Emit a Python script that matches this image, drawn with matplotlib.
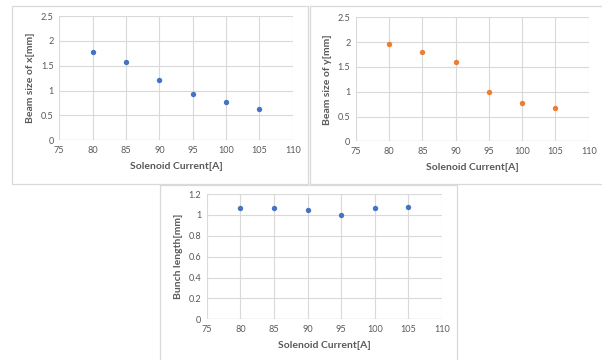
import matplotlib
matplotlib.use("Agg")
import matplotlib.pyplot as plt
from matplotlib.patches import Rectangle

plt.rcParams['font.family'] = ['Lato', 'DejaVu Sans']

current = [80, 85, 90, 95, 100, 105]
beam_x = [1.77, 1.57, 1.21, 0.94, 0.78, 0.62]
beam_y = [1.97, 1.81, 1.60, 0.99, 0.78, 0.68]
bunch = [1.063, 1.063, 1.044, 1.002, 1.066, 1.076]

x_ticks = [75, 80, 85, 90, 95, 100, 105, 110]
xlabel = "Solenoid Current[A]"

W, H = 602, 360
fig = plt.figure(figsize=(W / 100, H / 100), dpi=100)

def fr(l, r, t, b):
    return [l / W, 1 - b / H, (r - l) / W, (b - t) / H]

# chart borders
for (l, r, t, b) in [(12, 308, 6, 184), (310, 640, 6, 184), (159.5, 457, 185, 400)]:
    fig.patches.append(Rectangle((l / W, 1 - b / H), (r - l) / W, (b - t) / H,
                                 transform=fig.transFigure, fill=False,
                                 edgecolor='#D9D9D9', linewidth=0.9, zorder=0))

blue = '#4472C4'
orange = '#ED7D31'
tcol = '#595959'

def style(ax, ymax, ystep, ylab):
    ax.set_xlim(75, 110)
    ax.set_xticks(x_ticks)
    ax.set_ylim(0, ymax)
    n = int(round(ymax / ystep))
    yt = [round(i * ystep, 2) for i in range(n + 1)]
    ax.set_yticks(yt)
    ax.set_yticklabels([('%g' % v) for v in yt])
    for s in ax.spines.values():
        s.set_visible(False)
    ax.grid(True, color='#D9D9D9', linewidth=0.8)
    ax.set_axisbelow(True)
    ax.tick_params(length=0, labelsize=6.6, colors=tcol, pad=4)
    ax.axhline(0, color='#D0D0D0', linewidth=0.9, zorder=1)
    ax.set_xlabel(xlabel, fontsize=7.5, fontweight='bold', color=tcol, labelpad=5)
    ax.set_ylabel(ylab, fontsize=7.5, fontweight='bold', color=tcol, labelpad=4)
    ax.patch.set_alpha(0)

ax1 = fig.add_axes(fr(59.3, 292.7, 16, 140.3))
ax1.scatter(current, beam_x, s=15, color=blue, zorder=3, linewidths=0)
style(ax1, 2.5, 0.5, "Beam size of x[mm]")

ax2 = fig.add_axes(fr(356, 588.7, 17.3, 141.3))
ax2.scatter(current, beam_y, s=15, color=orange, zorder=3, linewidths=0)
style(ax2, 2.5, 0.5, "Beam size of y[mm]")

ax3 = fig.add_axes(fr(206.7, 442, 194, 319.3))
ax3.scatter(current, bunch, s=15, color=blue, zorder=3, linewidths=0)
style(ax3, 1.2, 0.2, "Bunch length[mm]")

fig.savefig("out.png", dpi=100)
